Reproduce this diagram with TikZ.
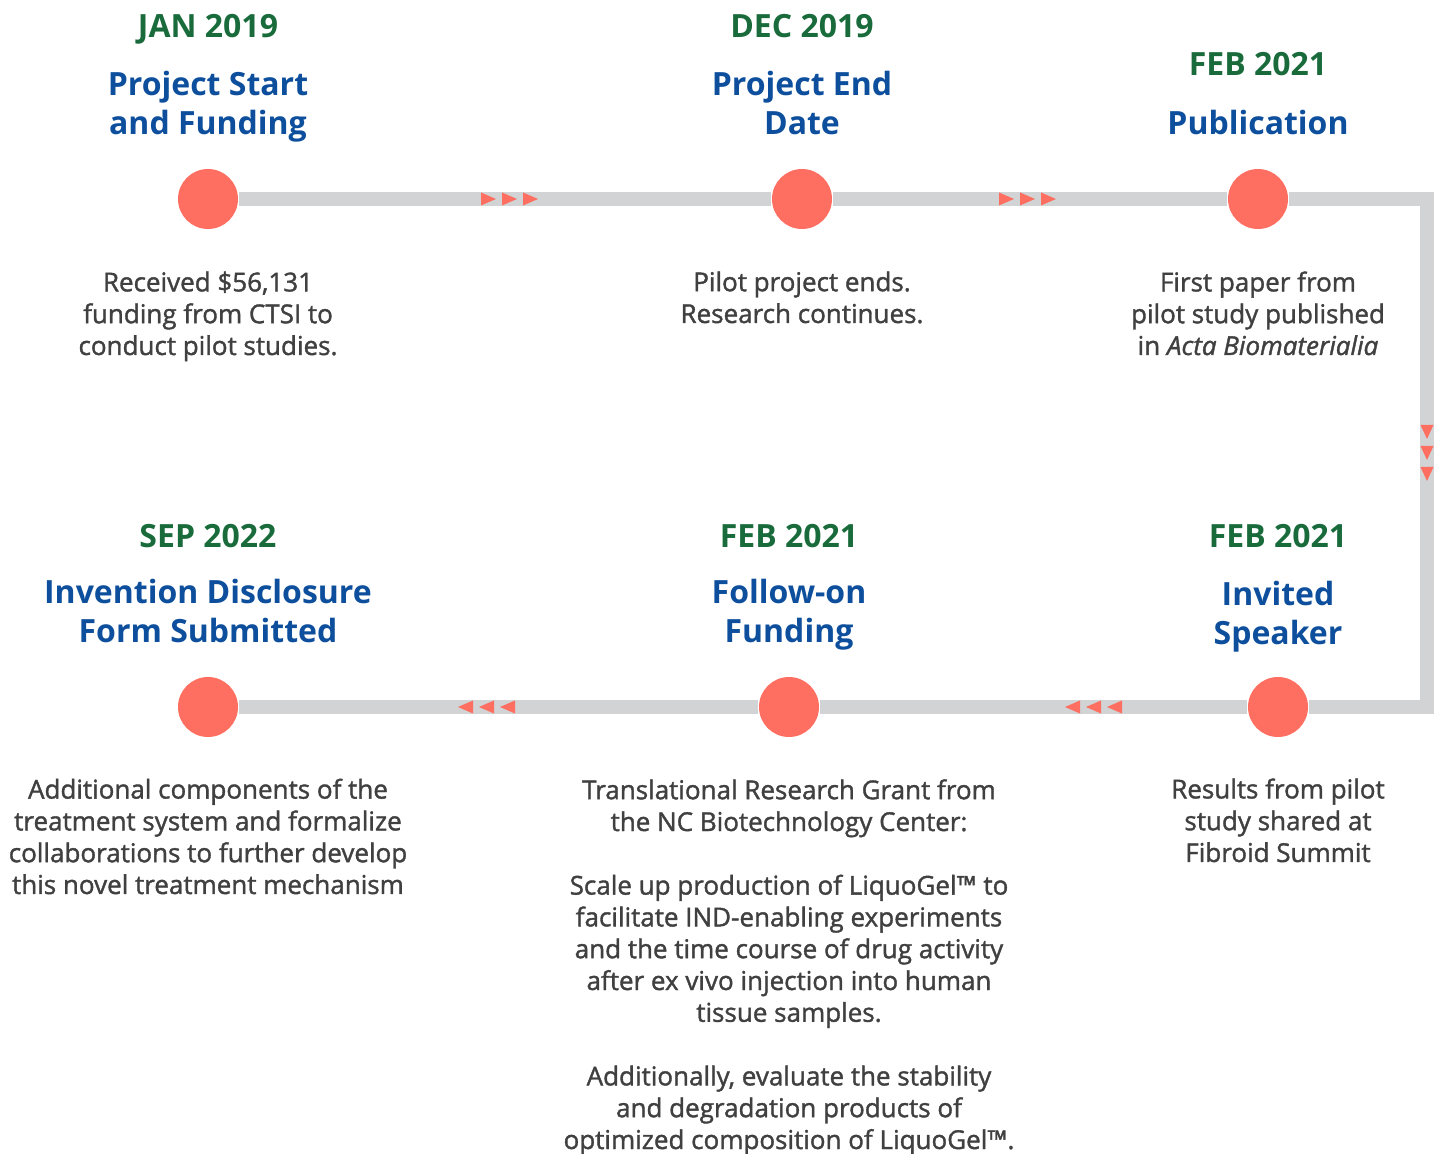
\documentclass[tikz,border=0pt]{standalone}
\usepackage{fontspec}
\setmainfont{Open Sans}
\newfontfamily\semifont{Open Sans}[FakeBold=1.4]
\usepackage{tikz}
\usetikzlibrary{positioning, backgrounds}

\definecolor{dotred}{HTML}{FF6F61}
\definecolor{trackgray}{HTML}{D1D3D4}
\definecolor{dategreen}{HTML}{1A6B3C}
\definecolor{titleblue}{HTML}{0D4F9C}
\definecolor{notegray}{HTML}{404040}

\begin{document}
\begin{tikzpicture}[x=0.5pt, y=-0.5pt, thick]
        % Define block styles
        \tikzstyle{dot} = [circle, fill=dotred, minimum size=30pt, inner sep=0pt]
        \tikzstyle{date} = [anchor=base, inner sep=0pt, text=dategreen, font=\bfseries\fontsize{16}{19.5}\selectfont]
        \tikzstyle{title} = [anchor=base, inner sep=0pt, align=center, text=titleblue, font=\bfseries\fontsize{16}{19.5}\selectfont]
        \tikzstyle{note} = [anchor=base, inner sep=0pt, align=center, text=notegray, font=\semifont\fontsize{13}{15.9}\selectfont]
        \tikzstyle{track} = [draw=trackgray, line width=7pt, line join=miter]
        \tikzstyle{marker} = [fill=dotred]

        \useasboundingbox (0,0) rectangle (1442,1154);

        % Place main nodes
        \node [dot] (start) at (208,199) {};
        \node [dot] (end) at (802,199) {};
        \node [dot] (pub) at (1258,199) {};
        \node [dot] (speaker) at (1278,707) {};
        \node [dot] (followon) at (789,707) {};
        \node [dot] (disclosure) at (208,707) {};
        \coordinate (turntop) at (1427,199);
        \coordinate (turnbottom) at (1427,707);

        % Draw the track behind the dots
        \begin{scope}[on background layer]
        \draw [track] (start) -- (end);
        \draw [track] (end) -- (pub);
        \draw [track] (pub) -- (turntop) -- (turnbottom) -- (speaker);
        \draw [track] (speaker) -- (followon);
        \draw [track] (followon) -- (disclosure);
        \end{scope}

        % Direction markers on the track
        \foreach \x in {481,502,523,999,1020,1041}
            \fill [marker] (\x,192.5) -- (\x+15,199) -- (\x,205.5) -- cycle;
        \foreach \y in {425,446,467}
            \fill [marker] (1420.5,\y) -- (1433.5,\y) -- (1427,\y+14) -- cycle;
        \foreach \x in {458,479,500,1065,1086,1107}
            \fill [marker] (\x,707) -- (\x+15,700.5) -- (\x+15,713.5) -- cycle;

        % Dates
        \node [date] (startdate) at (208,37.5) {JAN 2019};
        \node [date] (enddate) at (802,37.5) {DEC 2019};
        \node [date] (pubdate) at (1258,75.5) {FEB 2021};
        \node [date] (speakerdate) at (1278,547.5) {FEB 2021};
        \node [date] (followondate) at (789,547.5) {FEB 2021};
        \node [date] (disclosuredate) at (208,547.5) {SEP 2022};

        % Titles (base is the last line)
        \node [title] (starttitle) at (208,135) {Project Start\\and Funding};
        \node [title] (endtitle) at (802,135) {Project End\\Date};
        \node [title] (pubtitle) at (1258,135) {Publication};
        \node [title] (speakertitle) at (1278,645) {Invited\\Speaker};
        \node [title] (followontitle) at (789,643) {Follow-on\\Funding};
        \node [title] (disclosuretitle) at (208,643) {Invention Disclosure\\Form Submitted};

        % Notes under the dots
        \node [note] (startnote) at (208,355) {Received \$56,131\\funding from CTSI to\\conduct pilot studies.};
        \node [note] (endnote) at (802,323) {Pilot project ends.\\Research continues.};
        \node [note] (pubnote) at (1258,355) {First paper from\\pilot study published\\in \textit{Acta Biomaterialia}};
        \node [note] (speakernote) at (1278,862) {Results from pilot\\study shared at\\Fibroid Summit};
        \node [note] (followonnote) at (789,1149) {Translational Research Grant from\\the NC Biotechnology Center:\\[15.9pt]Scale up production of LiquoGel™ to\\facilitate IND-enabling experiments\\and the time course of drug activity\\after ex vivo injection into human\\tissue samples.\\[15.9pt]Additionally, evaluate the stability\\and degradation products of\\optimized composition of LiquoGel™.};
        \node [note] (disclosurenote) at (208,894) {Additional components of the\\treatment system and formalize\\collaborations to further develop\\this novel treatment mechanism};

\end{tikzpicture}
\end{document}
